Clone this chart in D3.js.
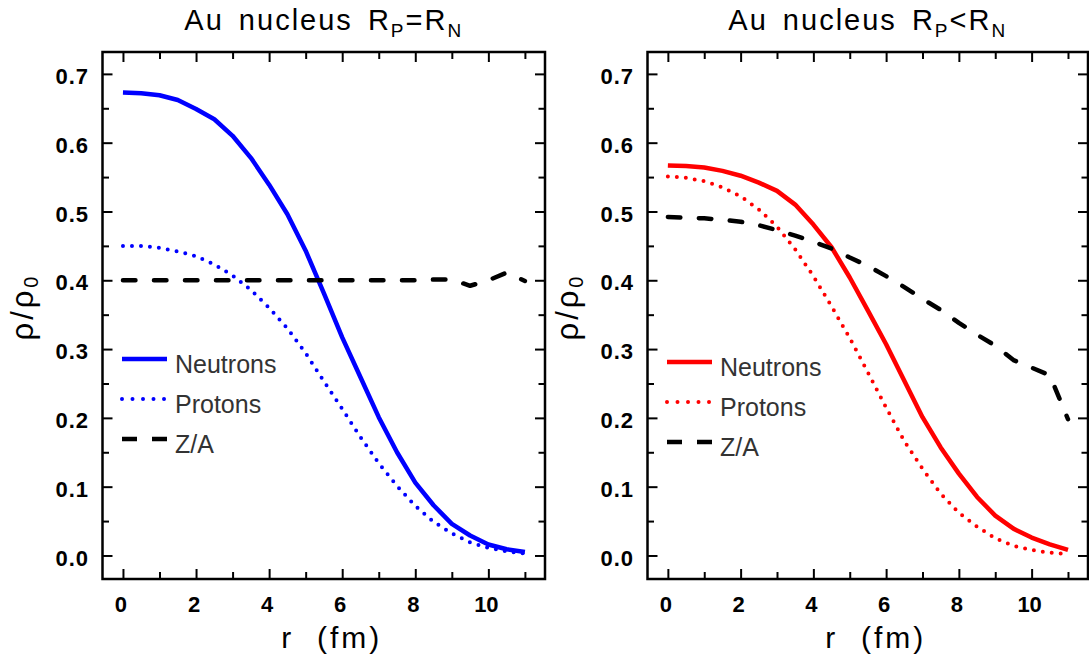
<!DOCTYPE html>
<html><head><meta charset="utf-8">
<script src="https://cdn.jsdelivr.net/npm/d3@7"></script>
<style>body{margin:0;background:#fff}svg{display:block}</style>
</head><body><svg id="c" width="1089" height="659"></svg>
<script>
// ---- data ----
const radius = [0,0.5,1,1.5,2,2.5,3,3.5,4,4.5,5,5.5,6,6.5,7,7.5,8,8.5,9,9.5,10,10.5,11];
const neutronsEqual = [0.673,0.672,0.669,0.662,0.649,0.634,0.610,0.578,0.539,0.496,0.443,0.381,0.317,0.259,0.201,0.150,0.106,0.073,0.046,0.029,0.016,0.009,0.005];
const protonsEqual  = [0.450,0.450,0.447,0.442,0.435,0.423,0.407,0.386,0.360,0.330,0.294,0.253,0.213,0.172,0.134,0.101,0.072,0.049,0.032,0.019,0.011,0.006,0.003];
const zaEqual       = [0.400,0.400,0.400,0.400,0.400,0.400,0.400,0.400,0.400,0.400,0.400,0.400,0.400,0.400,0.400,0.400,0.400,0.401,0.401,0.392,0.400,0.411,0.399];
const neutronsSkin  = [0.567,0.566,0.564,0.559,0.552,0.542,0.530,0.510,0.481,0.448,0.404,0.356,0.307,0.254,0.201,0.157,0.119,0.085,0.058,0.039,0.026,0.016,0.008];
const protonsSkin   = [0.551,0.549,0.544,0.535,0.522,0.503,0.478,0.445,0.406,0.362,0.316,0.266,0.215,0.166,0.126,0.090,0.062,0.042,0.025,0.014,0.008,0.004,0.002];
const zaSkin        = [0.492,0.491,0.490,0.488,0.485,0.480,0.473,0.465,0.456,0.446,0.433,0.421,0.406,0.390,0.373,0.357,0.338,0.321,0.305,0.284,0.273,0.262,0.198];
const seriesNames = ["Neutrons","Protons","Z/A"];
const xMajorTicks = [0,2,4,6,8,10];
const xMinorTicks = [1,3,5,7,9,11];
const yMajorTicks = [0,0.1,0.2,0.3,0.4,0.5,0.6,0.7];
const yMinorTicks = [0.05,0.15,0.25,0.35,0.45,0.55,0.65];
const titles = [["Au nucleus R","P","=R","N"],["Au nucleus R","P","<R","N"]];

// ---- layout ----
const svg = d3.select("#c");
const FONT = "'Liberation Sans', Arial, sans-serif";
const yTop = 52, yBottom = 579;
const panels = [
  {x0:102.5, x1:545, color:"#0000ff", data:[neutronsEqual, protonsEqual, zaEqual], title:titles[0], legY:359},
  {x0:647.5, x1:1088, color:"#ff0000", data:[neutronsSkin, protonsSkin, zaSkin], title:titles[1], legY:362}
];
const styles = [
  {w:4.5, dash:null, cap:"butt"},
  {w:4, dash:"0,9", cap:"round"},
  {w:4.5, dash:"12.5,18.5", cap:"round"}
];

panels.forEach(p => {
  const x = d3.scaleLinear().domain([-0.56, 11.55]).range([p.x0, p.x1]);
  const y = d3.scaleLinear().domain([-0.0342, 0.7318]).range([yBottom, yTop]);
  const g = svg.append("g");

  // curves
  const line = d3.line().x((d,i)=>x(radius[i])).y(d=>y(d));
  p.data.forEach((vals, k) => {
    const st = styles[k];
    g.append("path").datum(vals).attr("d", line)
      .attr("fill","none")
      .attr("stroke", k===2 ? "#000" : p.color)
      .attr("stroke-width", st.w)
      .attr("stroke-linecap", st.cap)
      .attr("stroke-linejoin","round")
      .attr("stroke-dasharray", st.dash);
  });

  // axes
  const styleAxis = sel => { sel.select(".domain").remove(); sel.selectAll("line").attr("stroke","#000").attr("stroke-width",2); };
  const bMaj = g.append("g").attr("transform",`translate(0,${yBottom})`)
    .call(d3.axisBottom(x).tickValues(xMajorTicks).tickSizeInner(-10).tickSizeOuter(0).tickPadding(17).tickFormat(d3.format("d")));
  styleAxis(bMaj);
  bMaj.selectAll("text").attr("font-family",FONT).attr("font-weight","bold").attr("font-size",22).attr("fill","#000").attr("dx",-2.5);
  styleAxis(g.append("g").attr("transform",`translate(0,${yBottom})`)
    .call(d3.axisBottom(x).tickValues(xMinorTicks).tickSizeInner(-7).tickSizeOuter(0).tickFormat("")));
  styleAxis(g.append("g").attr("transform",`translate(0,${yTop})`)
    .call(d3.axisTop(x).tickValues(xMajorTicks).tickSizeInner(-10).tickSizeOuter(0).tickFormat("")));
  styleAxis(g.append("g").attr("transform",`translate(0,${yTop})`)
    .call(d3.axisTop(x).tickValues(xMinorTicks).tickSizeInner(-7).tickSizeOuter(0).tickFormat("")));

  const lMaj = g.append("g").attr("transform",`translate(${p.x0},0)`)
    .call(d3.axisLeft(y).tickValues(yMajorTicks).tickSizeInner(-10).tickSizeOuter(0).tickPadding(13.5).tickFormat(d3.format(".1f")));
  styleAxis(lMaj);
  lMaj.selectAll("text").attr("font-family",FONT).attr("font-weight","bold").attr("font-size",22).attr("fill","#000").attr("dy","0.44em").attr("letter-spacing",1);
  styleAxis(g.append("g").attr("transform",`translate(${p.x0},0)`)
    .call(d3.axisLeft(y).tickValues(yMinorTicks).tickSizeInner(-6.5).tickSizeOuter(0).tickFormat("")));
  styleAxis(g.append("g").attr("transform",`translate(${p.x1},0)`)
    .call(d3.axisRight(y).tickValues(yMajorTicks).tickSizeInner(-10).tickSizeOuter(0).tickFormat("")));
  styleAxis(g.append("g").attr("transform",`translate(${p.x1},0)`)
    .call(d3.axisRight(y).tickValues(yMinorTicks).tickSizeInner(-6.5).tickSizeOuter(0).tickFormat("")));

  // frame
  g.append("rect").attr("x",p.x0).attr("y",yTop).attr("width",p.x1-p.x0).attr("height",yBottom-yTop)
    .attr("fill","none").attr("stroke","#000").attr("stroke-width",2.5);

  // title
  const cx = (p.x0+p.x1)/2;
  const t = g.append("text").attr("x",cx).attr("y",29.5).attr("text-anchor","middle")
    .attr("font-family",FONT).attr("font-size",29).attr("letter-spacing",2).attr("word-spacing",5).attr("fill","#000");
  t.append("tspan").text(p.title[0]);
  t.append("tspan").attr("dy",7).attr("font-size",19).text(p.title[1]);
  t.append("tspan").attr("dy",-7).attr("font-size",29).text(p.title[2]);
  t.append("tspan").attr("dy",7).attr("font-size",19).text(p.title[3]);

  // x axis title
  g.append("text").attr("x",cx+8).attr("y",648).attr("text-anchor","middle")
    .attr("font-family",FONT).attr("font-size",30).attr("letter-spacing",3).attr("fill","#000")
    .style("white-space","pre").text("r  (fm)");

  // y axis title
  const yt = g.append("text").attr("transform",`translate(${p.x0-70},307) rotate(-90)`)
    .attr("text-anchor","middle").attr("font-family",FONT).attr("font-size",31).attr("letter-spacing",3).attr("fill","#000");
  yt.append("tspan").text("ρ/ρ");
  yt.append("tspan").attr("dy",5).attr("font-size",20).text("0");

  // legend
  seriesNames.forEach((name,k) => {
    const st = styles[k];
    const ly = p.legY + k*40;
    const lx = p.x0 + 19.5;
    g.append("line").attr("x1",lx).attr("x2",lx+45).attr("y1",ly).attr("y2",ly)
      .attr("stroke", k===2 ? "#000" : p.color).attr("stroke-width",st.w)
      .attr("stroke-dasharray", k===1 ? "0,10.5" : (k===2 ? "15,15" : null))
      .attr("stroke-linecap", k===2 ? "butt" : st.cap);
    g.append("text").attr("x",lx+53).attr("y",ly+13.5)
      .attr("font-family",FONT).attr("font-size",25).attr("fill","#333").text(name);
  });
});
</script></body></html>
